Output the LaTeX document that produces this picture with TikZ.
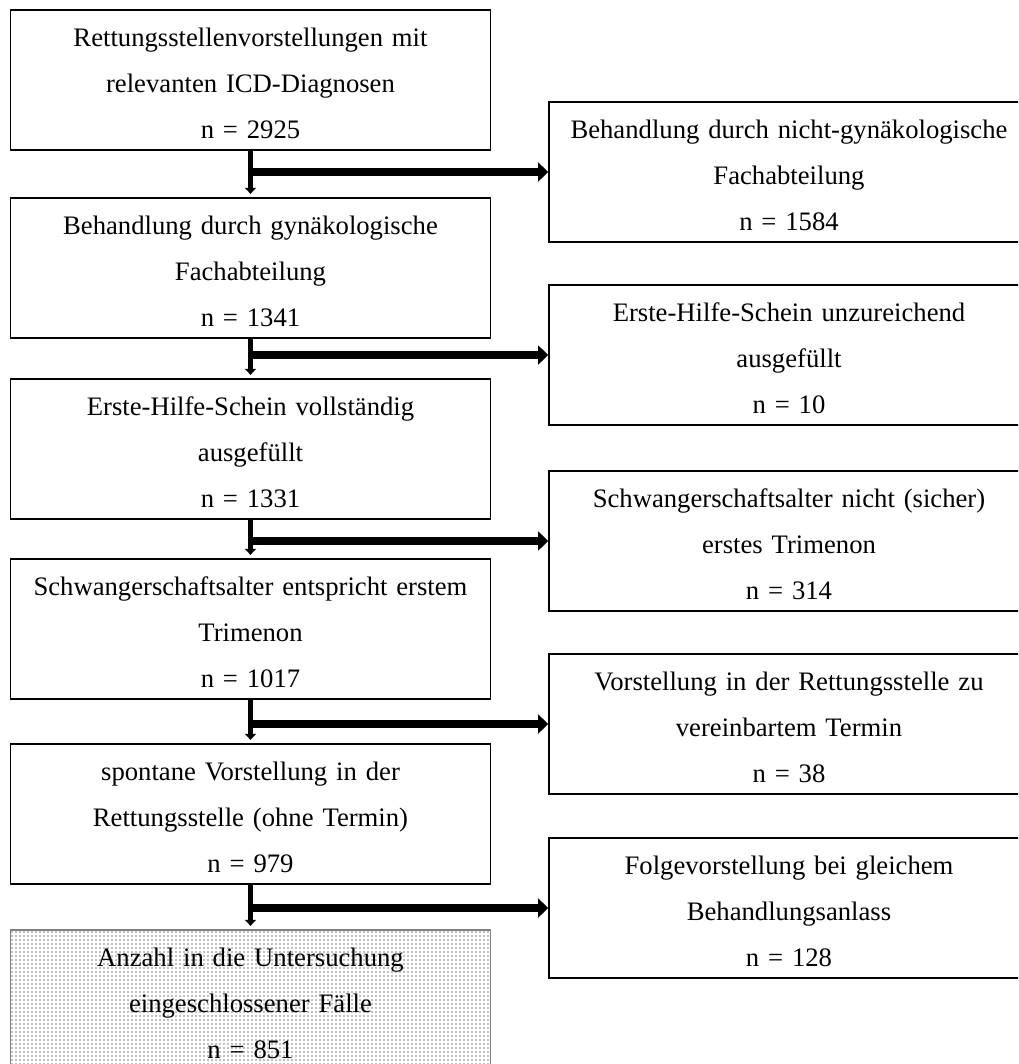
\documentclass[tikz,border=0pt]{standalone}
\usepackage{fontspec}
\setmainfont{Liberation Serif}
\usetikzlibrary{arrows.meta,patterns.meta}
\tikzset{
    BX/.style ={rectangle,draw,line width=0.75pt,inner xsep=0pt,inner ysep=0pt,
        text width=216pt,align=center,text height=16.2pt,text depth=46.8pt,
        font=\fontsize{12}{20.7}\selectfont},
    BX2/.style ={BX,draw=gray,pattern={Dots[distance=1.8pt,radius=0.4pt]},pattern color=gray},
    AR1/.style ={line width=2.25pt,-{Triangle[width=5pt,length=2.7pt]},shorten >=1.5pt},
    AR2/.style ={line width=4pt,-{Triangle[width=8.5pt,length=4.5pt]}}}
\begin{document}
\begin{tikzpicture}[x=0.45pt,y=-0.45pt]
    \useasboundingbox (0,0) rectangle (1018,1064);
    \clip (0,0) rectangle (1018,1064);
    \node[BX](1) at(250.5,80){Rettungsstellenvorstellungen mit\\relevanten ICD-Diagnosen\\n = 2925};
    \node[BX](2) at(250.5,268){Behandlung durch gynäkologische\\Fachabteilung\\n = 1341};
    \node[BX](3) at(250.5,449){Erste-Hilfe-Schein vollständig\\ausgefüllt\\n = 1331};
    \node[BX](4) at(250.5,629){Schwangerschaftsalter entspricht erstem\\Trimenon\\n = 1017};
    \node[BX](5) at(250.5,814){spontane Vorstellung in der\\Rettungsstelle (ohne Termin)\\n = 979};
    \node[BX2](6) at(250.5,1000){Anzahl in die Untersuchung\\eingeschlossener Fälle\\n = 851};
    \node[BX](7) at(789,172){Behandlung durch nicht-gynäkologische\\Fachabteilung\\n = 1584};
    \node[BX](8) at(789,355){Erste-Hilfe-Schein unzureichend\\ausgefüllt\\n = 10};
    \node[BX](9) at(789,541){Schwangerschaftsalter nicht (sicher)\\erstes Trimenon\\n = 314};
    \node[BX](10) at(789,724){Vorstellung in der Rettungsstelle zu\\vereinbartem Termin\\n = 38};
    \node[BX](11) at(789,908){Folgevorstellung bei gleichem\\Behandlungsanlass\\n = 128};
    \foreach \a/\b in {1/2,2/3,3/4,4/5,5/6}
        \draw[AR1] (\a) -- (\b);
    \foreach \a/\b in {1/7,2/8,3/9,4/10,5/11}
        \draw[AR2] (\a.south |- \b.west) -- (\b.west);
\end{tikzpicture}
\end{document}
